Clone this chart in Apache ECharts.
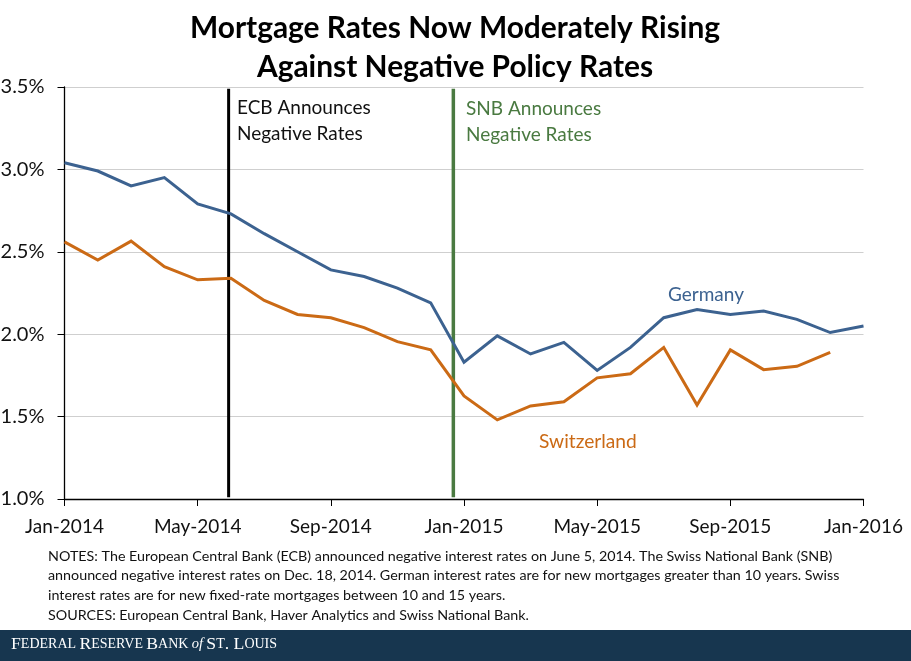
<!DOCTYPE html>
<html>
<head>
<meta charset="utf-8">
<style>
html, body { margin: 0; padding: 0; background: #fff; }
#chart { width: 911px; height: 661px; }
</style>
<script src="https://cdn.jsdelivr.net/npm/echarts@6/dist/echarts.min.js"></script>
</head>
<body>
<div id="chart"></div>
<script>
// months from Jan-2014 to Jan-2016
var months = ['Jan-2014', 'Feb-2014', 'Mar-2014', 'Apr-2014', 'May-2014', 'Jun-2014', 'Jul-2014', 'Aug-2014', 'Sep-2014', 'Oct-2014', 'Nov-2014', 'Dec-2014',
    'Jan-2015', 'Feb-2015', 'Mar-2015', 'Apr-2015', 'May-2015', 'Jun-2015', 'Jul-2015', 'Aug-2015', 'Sep-2015', 'Oct-2015', 'Nov-2015', 'Dec-2015', 'Jan-2016'];
var germany = [3.04, 2.99, 2.90, 2.95, 2.79, 2.73, 2.61, 2.50, 2.39, 2.35, 2.28, 2.19,
    1.83, 1.99, 1.88, 1.95, 1.78, 1.92, 2.10, 2.15, 2.12, 2.14, 2.09, 2.01, 2.05];
var switzerland = [2.56, 2.45, 2.565, 2.41, 2.33, 2.34, 2.205, 2.12, 2.10, 2.04, 1.955, 1.905,
    1.625, 1.48, 1.565, 1.59, 1.735, 1.76, 1.92, 1.57, 1.905, 1.785, 1.805, 1.89, null];
// announcement dates, in months after Jan-2014
var ecbMonth = 4.93;
var snbMonth = 11.68;
var notes = [
    'NOTES: The European Central Bank (ECB) announced negative interest rates on June 5, 2014. The Swiss National Bank (SNB)',
    'announced negative interest rates on Dec. 18, 2014. German interest rates are for new mortgages greater than 10 years. Swiss',
    'interest rates are for new fixed-rate mortgages between 10 and 15 years.',
    'SOURCES: European Central Bank, Haver Analytics and Swiss National Bank.'
];

var FONT = 'Lato';
var myChart = echarts.init(document.getElementById('chart'), null, { renderer: 'canvas' });

function pairs(values) {
    return values.map(function(v, i) { return [i, v]; });
}

var option = {
    animation: false,
    backgroundColor: '#fff',
    textStyle: { fontFamily: FONT },
    // outerBoundsMode none: otherwise v6 pushes the grid in to fit the labels
    grid: { left: 64.5, right: 47.5, top: 87, bottom: 162, outerBoundsMode: 'none' },
    title: {
        text: 'Mortgage Rates Now Moderately Rising\nAgainst Negative Policy Rates',
        left: 450, top: 4, textAlign: 'center',
        textStyle: { fontFamily: FONT, fontSize: 29.9, fontWeight: 'bold', color: '#000', lineHeight: 39 }
    },
    xAxis: {
        type: 'value', min: 0, max: 24, interval: 4,
        axisLine: { lineStyle: { color: '#000', width: 1.3 } },
        axisTick: { length: 7, lineStyle: { color: '#000', width: 1 } },
        splitLine: { show: false },
        axisLabel: {
            fontSize: 19, color: '#111', margin: 18, fontFamily: FONT, showMinLabel: true, showMaxLabel: true, hideOverlap: false,
            formatter: function(v) { return months[v]; }
        }
    },
    yAxis: {
        type: 'value', min: 1, max: 3.5, interval: 0.5,
        axisLine: { show: true, lineStyle: { color: '#000', width: 1.3 } },
        axisTick: { show: true, length: 7, lineStyle: { color: '#000', width: 1 } },
        splitLine: { lineStyle: { color: '#cfcfcf', width: 1 } },
        axisLabel: {
            fontSize: 20, color: '#111', margin: 20, fontFamily: FONT,
            formatter: function(v) { return v.toFixed(1) + '%'; }
        }
    },
    series: [{
        name: 'ECB', type: 'line', symbol: 'none', z: 3,
        lineStyle: { color: '#000', width: 3 },
        data: [[ecbMonth, 1.01], [ecbMonth, 3.49]]
    }, {
        name: 'SNB', type: 'line', symbol: 'none', z: 3,
        lineStyle: { color: '#4a7a41', width: 3.5 },
        data: [[snbMonth, 1.01], [snbMonth, 3.49]]
    }, {
        name: 'Germany', type: 'line', symbol: 'none', z: 4,
        lineStyle: { color: '#3c6290', width: 3, join: 'miter' },
        data: pairs(germany)
    }, {
        name: 'Switzerland', type: 'line', symbol: 'none', z: 4,
        lineStyle: { color: '#cb6a15', width: 3, join: 'miter' },
        data: pairs(switzerland)
    }],
    graphic: [
        { type: 'text', left: 237, top: 95, style: { text: 'ECB Announces\nNegative Rates', fontFamily: FONT, fontSize: 19, lineHeight: 26, fill: '#111' } },
        { type: 'text', left: 466, top: 96, style: { text: 'SNB Announces\nNegative Rates', fontFamily: FONT, fontSize: 19, lineHeight: 26, fill: '#4a7a41' } },
        { type: 'text', left: 668, top: 285, style: { text: 'Germany', fontFamily: FONT, fontSize: 19, fill: '#3c6290' } },
        { type: 'text', left: 539, top: 432, style: { text: 'Switzerland', fontFamily: FONT, fontSize: 19.2, fill: '#cb6a15' } },
        { type: 'text', left: 48, top: 546, style: { text: notes.join('\n'), fontFamily: FONT, fontSize: 14.3, lineHeight: 19.8, fill: '#111' } },
        { type: 'rect', left: 0, top: 630, shape: { width: 911, height: 31 }, style: { fill: '#17364f' } },
        {
            type: 'text', left: 11, top: 635,
            style: {
                text: '{c|F}{s|EDERAL} {c|R}{s|ESERVE} {c|B}{s|ANK} {i|of} {c|S}{s|T}{c|. L}{s|OUIS}',
                fill: '#fff',
                rich: {
                    c: { fontFamily: 'Liberation Serif', fontSize: 17.7, fill: '#fff' },
                    s: { fontFamily: 'Liberation Serif', fontSize: 14, fill: '#fff' },
                    i: { fontFamily: 'Liberation Serif', fontSize: 14.5, fontStyle: 'italic', fill: '#fff' }
                }
            }
        }
    ]
};

myChart.setOption(option);
window.addEventListener('resize', function() {
    myChart.resize();
});
</script>
</body>
</html>
